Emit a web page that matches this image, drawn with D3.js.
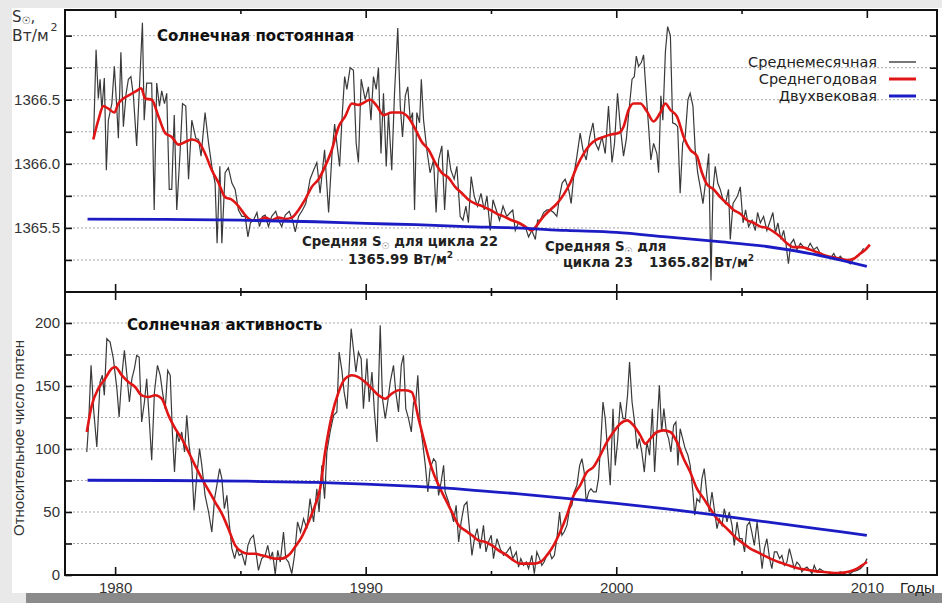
<!DOCTYPE html>
<html><head><meta charset="utf-8">
<script src="https://cdn.jsdelivr.net/npm/d3@7"></script>
<style>
html,body{margin:0;padding:0;background:#e9e9e9;}
svg{display:block;}
</style></head>
<body>
<svg id="c" width="942" height="603"></svg>
<script>
// ---------- data ----------
const majorYears = [1980, 1990, 2000, 2010];
const minorYears = [1985, 1995, 2005];
const tsiLabelTicks = [1365.5, 1366.0, 1366.5];
const tsiGridTicks = [1365.25, 1365.5, 1365.75, 1366.0, 1366.25, 1366.5, 1366.75, 1367.0];
const ssnLabelTicks = [0, 50, 100, 150, 200];
const ssnGridTicks = [25, 50, 75, 100, 125, 150, 175, 200];
const legendLabels = ["Среднемесячная", "Среднегодовая", "Двухвековая"];

const tsiMonthly = [[1979.14,1366.20],[1979.24,1366.89],[1979.33,1366.51],[1979.40,1366.66],[1979.47,1366.42],[1979.57,1366.67],[1979.65,1365.95],[1979.73,1366.34],[1979.87,1366.47],[1979.97,1366.76],[1980.07,1366.42],[1980.13,1366.20],[1980.23,1366.87],[1980.33,1366.29],[1980.44,1366.55],[1980.53,1366.66],[1980.63,1366.68],[1980.73,1366.53],[1980.86,1366.14],[1980.96,1366.55],[1981.09,1367.10],[1981.16,1366.34],[1981.26,1366.63],[1981.46,1366.63],[1981.56,1365.64],[1981.66,1366.63],[1981.77,1366.45],[1981.86,1366.57],[1981.97,1366.47],[1982.06,1366.55],[1982.16,1365.80],[1982.26,1365.80],[1982.36,1366.38],[1982.46,1365.64],[1982.59,1366.08],[1982.69,1366.47],[1982.82,1366.45],[1982.93,1365.88],[1983.06,1366.34],[1983.22,1366.20],[1983.33,1366.19],[1983.43,1366.06],[1983.59,1366.40],[1983.73,1366.16],[1983.86,1365.98],[1983.99,1365.85],[1984.07,1365.38],[1984.18,1365.98],[1984.26,1365.38],[1984.39,1365.93],[1984.52,1365.97],[1984.66,1365.85],[1984.79,1365.80],[1984.92,1365.64],[1985.06,1365.59],[1985.19,1365.59],[1985.30,1365.43],[1985.40,1365.54],[1985.52,1365.56],[1985.66,1365.62],[1985.76,1365.51],[1985.88,1365.59],[1985.99,1365.60],[1986.12,1365.51],[1986.25,1365.59],[1986.41,1365.63],[1986.52,1365.56],[1986.65,1365.51],[1986.79,1365.60],[1986.95,1365.63],[1987.08,1365.56],[1987.19,1365.47],[1987.32,1365.59],[1987.48,1365.64],[1987.61,1365.69],[1987.78,1365.88],[1987.92,1365.95],[1988.05,1366.01],[1988.18,1365.77],[1988.36,1366.11],[1988.52,1365.62],[1988.65,1366.06],[1988.76,1366.31],[1988.85,1366.16],[1988.96,1365.98],[1989.05,1366.34],[1989.16,1366.68],[1989.25,1366.58],[1989.38,1366.75],[1989.51,1366.73],[1989.62,1366.16],[1989.71,1366.01],[1989.82,1366.66],[1989.98,1366.50],[1990.11,1366.60],[1990.21,1366.34],[1990.31,1366.68],[1990.42,1366.58],[1990.51,1366.75],[1990.61,1366.08],[1990.71,1366.55],[1990.82,1365.98],[1990.91,1366.40],[1991.04,1365.95],[1991.15,1366.55],[1991.28,1367.06],[1991.38,1366.45],[1991.47,1366.21],[1991.58,1366.53],[1991.68,1366.60],[1991.78,1366.34],[1991.87,1366.40],[1991.95,1365.64],[1992.04,1366.40],[1992.15,1366.32],[1992.22,1366.66],[1992.31,1366.34],[1992.44,1366.11],[1992.57,1365.93],[1992.71,1366.03],[1992.81,1365.62],[1992.91,1366.03],[1993.04,1366.14],[1993.15,1365.64],[1993.28,1366.11],[1993.40,1365.95],[1993.53,1365.88],[1993.64,1365.98],[1993.77,1365.59],[1993.88,1365.56],[1994.00,1365.67],[1994.10,1365.54],[1994.21,1365.90],[1994.33,1365.75],[1994.46,1365.67],[1994.60,1365.77],[1994.73,1365.64],[1994.84,1365.75],[1994.97,1365.48],[1995.08,1365.72],[1995.21,1365.64],[1995.34,1365.56],[1995.48,1365.67],[1995.63,1365.59],[1995.77,1365.62],[1995.87,1365.64],[1995.97,1365.48],[1996.10,1365.54],[1996.23,1365.52],[1996.37,1365.51],[1996.50,1365.43],[1996.63,1365.48],[1996.77,1365.41],[1996.86,1365.56],[1996.97,1365.56],[1997.10,1365.62],[1997.23,1365.64],[1997.36,1365.64],[1997.50,1365.62],[1997.63,1365.59],[1997.74,1365.75],[1997.84,1365.85],[1997.96,1365.88],[1998.10,1365.80],[1998.20,1365.69],[1998.30,1365.90],[1998.43,1366.06],[1998.56,1366.24],[1998.67,1366.11],[1998.80,1366.03],[1998.94,1366.21],[1999.07,1366.32],[1999.17,1366.16],[1999.29,1366.11],[1999.43,1366.21],[1999.56,1366.08],[1999.69,1366.45],[1999.83,1366.01],[1999.93,1366.16],[2000.05,1366.55],[2000.16,1366.29],[2000.29,1366.06],[2000.40,1366.19],[2000.51,1366.42],[2000.63,1366.66],[2000.72,1366.68],[2000.80,1366.84],[2000.89,1366.76],[2001.00,1366.79],[2001.09,1366.85],[2001.20,1366.53],[2001.29,1366.29],[2001.38,1366.03],[2001.49,1366.16],[2001.62,1366.08],[2001.69,1365.93],[2001.78,1366.53],[2001.86,1366.34],[2001.96,1366.87],[2002.05,1367.07],[2002.16,1367.00],[2002.25,1366.32],[2002.36,1366.31],[2002.45,1366.29],[2002.55,1365.77],[2002.65,1366.16],[2002.75,1366.21],[2002.86,1366.50],[2002.95,1366.55],[2003.06,1366.45],[2003.15,1366.11],[2003.25,1365.93],[2003.35,1365.82],[2003.46,1365.69],[2003.59,1365.90],[2003.69,1366.08],[2003.78,1365.09],[2003.86,1365.80],[2003.95,1365.98],[2004.05,1365.85],[2004.15,1365.80],[2004.26,1365.72],[2004.36,1365.69],[2004.48,1365.80],[2004.55,1365.41],[2004.66,1365.69],[2004.75,1365.72],[2004.84,1365.75],[2004.95,1365.82],[2005.06,1365.54],[2005.16,1365.64],[2005.28,1365.51],[2005.42,1365.56],[2005.55,1365.48],[2005.64,1365.62],[2005.75,1365.54],[2005.88,1365.59],[2006.01,1365.48],[2006.15,1365.56],[2006.25,1365.62],[2006.35,1365.46],[2006.45,1365.54],[2006.57,1365.41],[2006.68,1365.48],[2006.77,1365.38],[2006.87,1365.22],[2006.97,1365.38],[2007.08,1365.41],[2007.21,1365.33],[2007.35,1365.38],[2007.48,1365.35],[2007.61,1365.33],[2007.74,1365.38],[2007.88,1365.33],[2008.01,1365.35],[2008.14,1365.30],[2008.28,1365.28],[2008.41,1365.28],[2008.54,1365.26],[2008.68,1365.30],[2008.81,1365.25],[2008.94,1365.28],[2009.07,1365.25],[2009.21,1365.24],[2009.34,1365.22],[2009.47,1365.26],[2009.61,1365.28],[2009.74,1365.30],[2009.87,1365.34]];

const tsiYearly = [[1979.13,1366.19],[1979.33,1366.34],[1979.53,1366.45],[1979.73,1366.43],[1979.97,1366.40],[1980.13,1366.47],[1980.33,1366.51],[1980.60,1366.54],[1980.86,1366.57],[1981.04,1366.59],[1981.20,1366.51],[1981.46,1366.50],[1981.73,1366.37],[1982.00,1366.24],[1982.26,1366.21],[1982.53,1366.15],[1982.79,1366.17],[1983.06,1366.19],[1983.33,1366.17],[1983.59,1366.08],[1983.86,1365.95],[1984.13,1365.85],[1984.39,1365.74],[1984.66,1365.72],[1984.92,1365.67],[1985.19,1365.60],[1985.46,1365.56],[1985.72,1365.56],[1985.99,1365.58],[1986.25,1365.56],[1986.52,1365.58],[1986.79,1365.57],[1987.05,1365.58],[1987.32,1365.64],[1987.58,1365.72],[1987.85,1365.82],[1988.12,1365.88],[1988.38,1365.98],[1988.65,1366.11],[1988.92,1366.29],[1989.18,1366.37],[1989.45,1366.47],[1989.71,1366.46],[1990.18,1366.50],[1990.45,1366.45],[1990.71,1366.38],[1991.04,1366.40],[1991.38,1366.40],[1991.71,1366.36],[1991.98,1366.27],[1992.24,1366.17],[1992.51,1366.11],[1992.77,1366.01],[1993.04,1365.93],[1993.31,1365.89],[1993.57,1365.82],[1993.84,1365.77],[1994.10,1365.72],[1994.37,1365.69],[1994.64,1365.67],[1994.97,1365.64],[1995.24,1365.61],[1995.50,1365.59],[1995.83,1365.56],[1996.10,1365.54],[1996.37,1365.51],[1996.63,1365.48],[1996.83,1365.52],[1997.10,1365.59],[1997.36,1365.64],[1997.63,1365.69],[1997.90,1365.76],[1998.16,1365.85],[1998.43,1365.98],[1998.70,1366.08],[1998.96,1366.15],[1999.23,1366.19],[1999.49,1366.21],[1999.83,1366.23],[2000.09,1366.24],[2000.29,1366.29],[2000.49,1366.42],[2000.69,1366.47],[2000.96,1366.47],[2001.22,1366.41],[2001.49,1366.33],[2001.76,1366.40],[2001.96,1366.47],[2002.16,1366.42],[2002.42,1366.37],[2002.69,1366.21],[2002.95,1366.11],[2003.22,1366.06],[2003.42,1365.93],[2003.62,1365.84],[2003.89,1365.80],[2004.15,1365.74],[2004.42,1365.69],[2004.68,1365.64],[2004.95,1365.61],[2005.22,1365.56],[2005.48,1365.54],[2005.75,1365.51],[2006.01,1365.50],[2006.28,1365.47],[2006.55,1365.43],[2006.81,1365.38],[2007.08,1365.35],[2007.35,1365.35],[2007.61,1365.34],[2007.88,1365.32],[2008.14,1365.30],[2008.41,1365.28],[2008.68,1365.27],[2008.94,1365.26],[2009.21,1365.25],[2009.47,1365.26],[2009.74,1365.30],[2009.94,1365.33],[2010.12,1365.37]];

const tsiTrend = [[1978.9,1365.568],[1982,1365.566],[1985,1365.56],[1988,1365.548],[1990,1365.535],[1992,1365.525],[1994,1365.51],[1996,1365.50],[1998,1365.48],[2000,1365.465],[2002,1365.43],[2004,1365.395],[2006,1365.355],[2008,1365.29],[2010,1365.20]];

const ssnMonthly = [[1978.87,97.6],[1978.94,118.8],[1979.04,166.4],[1979.14,132.0],[1979.27,101.6],[1979.40,153.2],[1979.49,158.5],[1979.57,142.6],[1979.67,187.6],[1979.80,184.9],[1979.93,171.7],[1980.07,147.9],[1980.16,125.4],[1980.27,158.5],[1980.37,178.3],[1980.47,158.5],[1980.57,137.3],[1980.67,155.8],[1980.77,163.8],[1980.86,174.3],[1980.96,173.0],[1981.06,121.4],[1981.17,137.3],[1981.26,155.8],[1981.36,124.1],[1981.46,91.0],[1981.57,145.2],[1981.69,166.4],[1981.80,158.5],[1981.89,145.2],[1982.00,132.0],[1982.10,162.4],[1982.20,158.5],[1982.29,110.8],[1982.37,81.7],[1982.46,113.5],[1982.55,105.6],[1982.66,113.5],[1982.77,97.6],[1982.86,126.7],[1982.95,102.9],[1983.06,87.0],[1983.15,51.3],[1983.26,79.1],[1983.37,100.3],[1983.46,87.0],[1983.59,63.2],[1983.73,50.0],[1983.86,34.1],[1983.97,60.6],[1984.06,71.2],[1984.17,84.4],[1984.26,76.5],[1984.36,52.6],[1984.46,63.2],[1984.55,42.1],[1984.66,20.9],[1984.77,13.0],[1984.86,20.9],[1984.95,15.6],[1985.06,16.9],[1985.19,7.7],[1985.30,23.5],[1985.40,28.8],[1985.52,31.5],[1985.62,18.3],[1985.72,3.7],[1985.85,13.0],[1985.99,15.6],[1986.09,23.5],[1986.19,13.0],[1986.28,18.3],[1986.39,0.5],[1986.49,19.6],[1986.59,10.3],[1986.72,34.1],[1986.81,13.0],[1986.92,10.3],[1987.05,1.1],[1987.16,15.6],[1987.28,42.1],[1987.40,34.1],[1987.52,44.7],[1987.65,36.8],[1987.78,60.6],[1987.92,42.1],[1988.05,68.5],[1988.14,50.0],[1988.25,87.0],[1988.36,60.6],[1988.45,97.6],[1988.58,113.5],[1988.72,126.7],[1988.85,129.4],[1988.94,177.0],[1989.05,162.4],[1989.14,145.2],[1989.25,132.0],[1989.34,163.8],[1989.42,195.5],[1989.51,179.6],[1989.61,161.1],[1989.71,177.0],[1989.82,171.7],[1989.91,132.0],[1990.05,171.7],[1990.14,137.3],[1990.25,161.1],[1990.35,129.4],[1990.45,105.6],[1990.58,198.1],[1990.67,139.9],[1990.78,124.1],[1990.88,137.3],[1990.98,153.2],[1991.11,166.4],[1991.20,145.2],[1991.31,129.4],[1991.42,166.4],[1991.51,174.3],[1991.60,132.0],[1991.71,124.1],[1991.82,113.5],[1991.91,137.3],[1992.00,137.3],[1992.08,158.5],[1992.18,118.8],[1992.27,105.6],[1992.38,87.0],[1992.48,65.9],[1992.57,84.4],[1992.71,92.3],[1992.80,89.7],[1992.91,63.2],[1993.01,73.8],[1993.11,87.0],[1993.17,65.9],[1993.31,57.9],[1993.41,50.0],[1993.51,42.1],[1993.61,55.3],[1993.71,26.2],[1993.81,42.1],[1993.93,55.3],[1994.04,57.9],[1994.13,39.4],[1994.24,15.6],[1994.34,28.8],[1994.45,36.8],[1994.57,20.9],[1994.70,39.4],[1994.80,18.3],[1994.90,26.2],[1995.01,31.5],[1995.10,13.0],[1995.24,28.8],[1995.37,20.9],[1995.50,15.6],[1995.64,18.3],[1995.77,22.2],[1995.87,13.0],[1996.01,18.3],[1996.10,6.3],[1996.19,13.0],[1996.30,7.7],[1996.41,10.3],[1996.50,5.0],[1996.63,15.6],[1996.73,1.0],[1996.83,18.3],[1996.94,13.0],[1997.03,7.7],[1997.12,10.3],[1997.23,15.6],[1997.34,18.3],[1997.43,13.0],[1997.53,15.6],[1997.63,28.8],[1997.74,50.0],[1997.83,31.5],[1997.92,34.1],[1998.03,39.4],[1998.14,52.6],[1998.23,55.3],[1998.32,65.9],[1998.43,71.2],[1998.54,87.0],[1998.63,92.3],[1998.72,81.7],[1998.80,57.9],[1998.90,65.9],[1998.99,68.5],[1999.09,65.9],[1999.20,65.9],[1999.29,76.5],[1999.39,108.2],[1999.47,137.3],[1999.56,124.1],[1999.65,100.3],[1999.76,71.2],[1999.87,132.0],[1999.96,87.0],[2000.05,105.6],[2000.16,137.3],[2000.27,124.1],[2000.36,124.1],[2000.45,142.6],[2000.53,169.0],[2000.63,137.3],[2000.73,121.4],[2000.83,100.3],[2000.92,108.2],[2001.02,97.6],[2001.12,81.7],[2001.22,105.6],[2001.33,95.0],[2001.44,132.0],[2001.53,81.7],[2001.62,113.5],[2001.72,150.5],[2001.81,113.5],[2001.90,132.0],[2002.00,113.5],[2002.09,108.2],[2002.18,97.6],[2002.29,118.8],[2002.38,121.4],[2002.46,87.0],[2002.55,116.1],[2002.65,108.2],[2002.75,100.3],[2002.86,95.0],[2002.95,87.0],[2003.06,65.9],[2003.13,47.4],[2003.22,60.6],[2003.33,57.9],[2003.42,76.5],[2003.51,84.4],[2003.62,63.2],[2003.71,50.0],[2003.82,65.9],[2003.91,52.6],[2004.02,36.8],[2004.11,44.7],[2004.22,39.4],[2004.31,52.6],[2004.42,42.1],[2004.51,50.0],[2004.62,39.4],[2004.71,23.5],[2004.82,42.1],[2004.92,28.8],[2005.02,28.8],[2005.12,18.3],[2005.22,39.4],[2005.32,42.1],[2005.41,34.1],[2005.51,23.5],[2005.62,42.1],[2005.72,23.5],[2005.82,5.0],[2005.91,20.9],[2006.01,28.8],[2006.12,13.0],[2006.21,5.0],[2006.31,18.3],[2006.41,18.3],[2006.52,13.0],[2006.61,15.6],[2006.71,7.7],[2006.81,10.3],[2006.91,20.9],[2007.01,13.0],[2007.10,5.0],[2007.21,10.3],[2007.32,7.7],[2007.41,2.4],[2007.50,5.0],[2007.61,6.3],[2007.72,3.7],[2007.81,1.1],[2007.90,7.7],[2008.01,2.4],[2008.12,5.0],[2008.21,3.7],[2008.30,2.4],[2008.41,2.4],[2008.54,1.1],[2008.68,1.1],[2008.81,1.1],[2008.94,2.4],[2009.08,1.1],[2009.21,2.4],[2009.34,1.1],[2009.47,2.9],[2009.61,3.7],[2009.74,5.0],[2009.87,7.7],[2010.01,13.0]];

const ssnYearly = [[1978.87,113.5],[1979.07,134.7],[1979.33,147.9],[1979.60,155.8],[1979.87,163.8],[1980.00,165.1],[1980.27,158.5],[1980.53,153.2],[1980.80,149.2],[1981.06,142.6],[1981.33,141.3],[1981.60,142.6],[1981.86,139.9],[1982.13,126.7],[1982.40,116.1],[1982.66,108.2],[1982.93,97.6],[1983.19,87.0],[1983.46,76.5],[1983.73,67.2],[1983.99,57.9],[1984.26,48.7],[1984.52,36.8],[1984.79,23.5],[1985.06,18.3],[1985.32,16.9],[1985.59,16.9],[1985.85,15.6],[1986.12,14.3],[1986.39,13.0],[1986.65,13.0],[1986.92,15.6],[1987.18,22.2],[1987.45,30.2],[1987.72,42.1],[1987.98,55.3],[1988.18,68.5],[1988.38,97.6],[1988.65,126.7],[1988.92,145.2],[1989.18,155.8],[1989.45,158.5],[1989.71,157.1],[1989.98,153.2],[1990.25,147.9],[1990.51,142.6],[1990.78,139.9],[1991.04,143.9],[1991.31,146.6],[1991.58,146.6],[1991.84,145.2],[1992.11,124.1],[1992.38,102.9],[1992.64,84.4],[1992.91,71.2],[1993.17,60.6],[1993.44,50.0],[1993.71,39.4],[1993.97,35.4],[1994.24,31.5],[1994.50,27.5],[1994.77,26.2],[1995.04,23.5],[1995.30,19.6],[1995.64,15.6],[1995.90,11.6],[1996.17,9.0],[1996.43,9.0],[1996.70,9.0],[1996.97,10.3],[1997.23,15.6],[1997.50,23.5],[1997.76,34.1],[1998.03,47.4],[1998.30,63.2],[1998.56,71.2],[1998.83,81.7],[1999.09,85.7],[1999.36,95.0],[1999.63,105.6],[1999.89,113.5],[2000.16,120.1],[2000.43,122.7],[2000.69,118.8],[2000.96,110.8],[2001.16,104.2],[2001.36,108.2],[2001.62,113.5],[2001.89,114.8],[2002.16,113.5],[2002.42,105.6],[2002.69,92.3],[2002.95,81.7],[2003.22,68.5],[2003.49,60.6],[2003.75,52.6],[2004.02,44.7],[2004.28,39.4],[2004.55,34.1],[2004.82,28.8],[2005.08,24.9],[2005.35,20.9],[2005.62,18.3],[2005.88,15.6],[2006.15,13.0],[2006.41,10.8],[2006.68,9.0],[2006.95,7.1],[2007.21,5.6],[2007.48,4.5],[2007.74,3.7],[2008.01,2.9],[2008.28,2.4],[2008.54,1.9],[2008.81,1.6],[2009.08,1.9],[2009.34,2.9],[2009.61,5.0],[2009.81,7.7],[2010.01,10.3]];

const ssnTrend = [[1978.9,75.2],[1982,75.0],[1985,74.5],[1988,73.5],[1990,72.2],[1992,70.3],[1994,67.8],[1996,64.5],[1998,60.8],[2000,56.8],[2002,52.5],[2004,47.6],[2006,42.1],[2008,36.8],[2010,31.5]];

// ---------- layout ----------
const L = 65, R = 937, T = 10, MID = 292, B = 575;
const svg = d3.select("#c");
const FONT = "'Liberation Sans', Arial, sans-serif";
const DJV = "'DejaVu Sans', sans-serif";

svg.append("rect").attr("x",0).attr("y",0).attr("width",942).attr("height",603).attr("fill","#e9e9e9");
svg.append("rect").attr("x",12).attr("y",8).attr("width",930).attr("height",585).attr("fill","#ffffff");
svg.append("rect").attr("x",26).attr("y",593).attr("width",916).attr("height",10).attr("fill","#8a8a8a");

const x = d3.scaleLinear().domain([1978, 2012.8]).range([L, R]);
const yT = d3.scaleLinear().domain([1365, 1367.2]).range([MID, T]);
const yB = d3.scaleLinear().domain([0, 224.6]).range([B, MID]);

// grid lines
const gridLayer = svg.append("g");
function grid(vals, scale){
  gridLayer.append("g").selectAll("line").data(vals).join("line")
    .attr("x1", L).attr("x2", R)
    .attr("y1", d=>scale(d)).attr("y2", d=>scale(d))
    .attr("stroke", "#a8a8a8").attr("stroke-width", 1).attr("stroke-dasharray", "2,2");
}
grid(tsiGridTicks, yT);
grid(ssnGridTicks, yB);
const annLayer = svg.append("g");

// axes
function styleAxis(g){
  g.select(".domain").remove();
  g.selectAll(".tick line").attr("stroke","#111").attr("stroke-width",1.6);
  g.selectAll(".tick text").attr("font-family", FONT).attr("font-size", 15).attr("fill", "#333");
}
const fmtT = d3.format(".1f");
svg.append("g").attr("transform",`translate(${L},0)`)
  .call(d3.axisLeft(yT).tickValues(tsiGridTicks).tickSize(-7).tickPadding(5)
    .tickFormat(d => tsiLabelTicks.includes(d) ? fmtT(d) : ""))
  .call(styleAxis);
svg.append("g").attr("transform",`translate(${R},0)`)
  .call(d3.axisRight(yT).tickValues(tsiGridTicks).tickSize(-7).tickFormat(""))
  .call(styleAxis);
svg.append("g").attr("transform",`translate(${L},0)`)
  .call(d3.axisLeft(yB).tickValues([0].concat(ssnGridTicks)).tickSize(-7).tickPadding(5)
    .tickFormat(d => ssnLabelTicks.includes(d) ? d : ""))
  .call(styleAxis);
svg.append("g").attr("transform",`translate(${R},0)`)
  .call(d3.axisRight(yB).tickValues(ssnGridTicks).tickSize(-7).tickFormat(""))
  .call(styleAxis);

// x axes
svg.append("g").attr("transform",`translate(0,${B})`)
  .call(d3.axisBottom(x).tickValues(majorYears).tickSize(-8).tickPadding(7).tickFormat(d3.format("d")))
  .call(styleAxis);
[[d3.axisBottom, B],[d3.axisTop, T],[d3.axisBottom, MID],[d3.axisTop, MID]].forEach(([fn, yy])=>{
  svg.append("g").attr("transform",`translate(0,${yy})`)
    .call(fn(x).tickValues(minorYears).tickSize(-4).tickFormat(""))
    .call(styleAxis);
});
[[d3.axisTop, T],[d3.axisBottom, MID],[d3.axisTop, MID]].forEach(([fn, yy])=>{
  svg.append("g").attr("transform",`translate(0,${yy})`)
    .call(fn(x).tickValues(majorYears).tickSize(-8).tickFormat(""))
    .call(styleAxis);
});

svg.append("text").attr("x", 900).attr("y", 593).attr("font-family", FONT).attr("font-size", 15)
  .attr("fill","#222").text("Годы");

// y-axis unit label (one text, two lines)
const yl = svg.append("text").attr("x", 12).attr("y", 22).attr("font-family", DJV).attr("font-size", 15).attr("fill","#333");
yl.append("tspan").text("S");
yl.append("tspan").attr("font-size", 10).attr("dy", 2).text("☉");
yl.append("tspan").attr("dy", -2).text(",");
yl.append("tspan").attr("x", 12).attr("dy", 19).attr("font-size", 15.5).text("Вт/м");
yl.append("tspan").attr("font-size", 11).attr("dx", 2).attr("dy", -10).text("2");

svg.append("text").attr("transform","translate(24,438) rotate(-90)").attr("text-anchor","middle")
  .attr("font-family", FONT).attr("font-size", 15).attr("fill","#333").text("Относительное число пятен");

// titles
svg.append("text").attr("x", 157).attr("y", 41).attr("font-family", DJV).attr("font-weight","bold")
  .attr("font-size", 15).attr("fill","#111").text("Солнечная постоянная");
svg.append("text").attr("x", 127).attr("y", 330).attr("font-family", DJV).attr("font-weight","bold")
  .attr("font-size", 15).attr("fill","#111").text("Солнечная активность");

// annotations (white boxes behind)
function ann(xc, yb, parts){
  const g = annLayer.append("g");
  const box = g.append("rect").attr("fill","#fff");
  const t = g.append("text").attr("x", xc).attr("y", yb).attr("font-family", DJV).attr("font-weight","bold")
    .attr("font-size", 13.3).attr("fill","#222");
  parts.forEach(p => {
    const s = t.append("tspan").text(p.t);
    if (p.fs) s.attr("font-size", p.fs);
    if (p.dy) s.attr("dy", p.dy);
    if (p.fill) s.attr("fill", p.fill);
    if (p.dx) s.attr("dx", p.dx);
  });
  const bb = t.node().getBBox();
  box.attr("x", bb.x-3).attr("y", bb.y-1).attr("width", bb.width+6).attr("height", bb.height+2);
}
ann(302, 246, [{t:"Средняя S"},{t:"☉",fs:9,dy:3,fill:"#777"},{t:" для цикла 22",dy:-3}]);
ann(348, 264, [{t:"1365.99 Вт/м"},{t:"2",fs:9,dy:-6}]);
ann(545, 251, [{t:"Средняя S"},{t:"☉",fs:9,dy:3,fill:"#777"},{t:" для",dy:-3}]);
ann(563, 267, [{t:"цикла 23"},{t:"1365.82 Вт/м",dx:16},{t:"2",fs:9,dy:-6}]);

// data lines
svg.append("clipPath").attr("id","clipT").append("rect").attr("x",L).attr("y",T).attr("width",R-L).attr("height",MID-T);
svg.append("clipPath").attr("id","clipB").append("rect").attr("x",L).attr("y",MID).attr("width",R-L).attr("height",B-MID);
const lineT = d3.line().x(d=>x(d[0])).y(d=>yT(d[1]));
const lineB = d3.line().x(d=>x(d[0])).y(d=>yB(d[1]));
const lineTs = d3.line().x(d=>x(d[0])).y(d=>yT(d[1])).curve(d3.curveMonotoneX);
const lineBs = d3.line().x(d=>x(d[0])).y(d=>yB(d[1])).curve(d3.curveMonotoneX);

const gT = svg.append("g").attr("clip-path","url(#clipT)");
gT.append("path").attr("d", lineT(tsiMonthly)).attr("fill","none").attr("stroke","#3a3a3a").attr("stroke-width",1.2);
gT.append("path").attr("d", lineTs(tsiYearly)).attr("fill","none").attr("stroke","#e01515").attr("stroke-width",2.6);
gT.append("path").attr("d", lineTs(tsiTrend)).attr("fill","none").attr("stroke","#1c1cc4").attr("stroke-width",2.8);

const gB = svg.append("g").attr("clip-path","url(#clipB)");
gB.append("path").attr("d", lineB(ssnMonthly)).attr("fill","none").attr("stroke","#3a3a3a").attr("stroke-width",1.2);
gB.append("path").attr("d", lineBs(ssnYearly)).attr("fill","none").attr("stroke","#e01515").attr("stroke-width",2.6);
gB.append("path").attr("d", lineBs(ssnTrend)).attr("fill","none").attr("stroke","#1c1cc4").attr("stroke-width",2.8);

// legend
const legColors = ["#555555", "#e01515", "#1c1cc4"];
const legW = [1.6, 3, 3];
const lg = svg.append("g");
legendLabels.forEach((lab, i) => {
  const yb = 67 + i*17;
  lg.append("text").attr("x", 877).attr("y", yb).attr("text-anchor","end").attr("font-family", DJV)
    .attr("font-size", 14.5).attr("fill","#222").text(lab);
  lg.append("line").attr("x1", 889).attr("x2", 916).attr("y1", yb-5).attr("y2", yb-5)
    .attr("stroke", legColors[i]).attr("stroke-width", legW[i]);
});

// frame
svg.append("rect").attr("x",L).attr("y",T).attr("width",R-L).attr("height",B-T).attr("fill","none").attr("stroke","#111").attr("stroke-width",2);
svg.append("line").attr("x1",L).attr("x2",R).attr("y1",MID).attr("y2",MID).attr("stroke","#111").attr("stroke-width",2);
</script>
</body></html>
